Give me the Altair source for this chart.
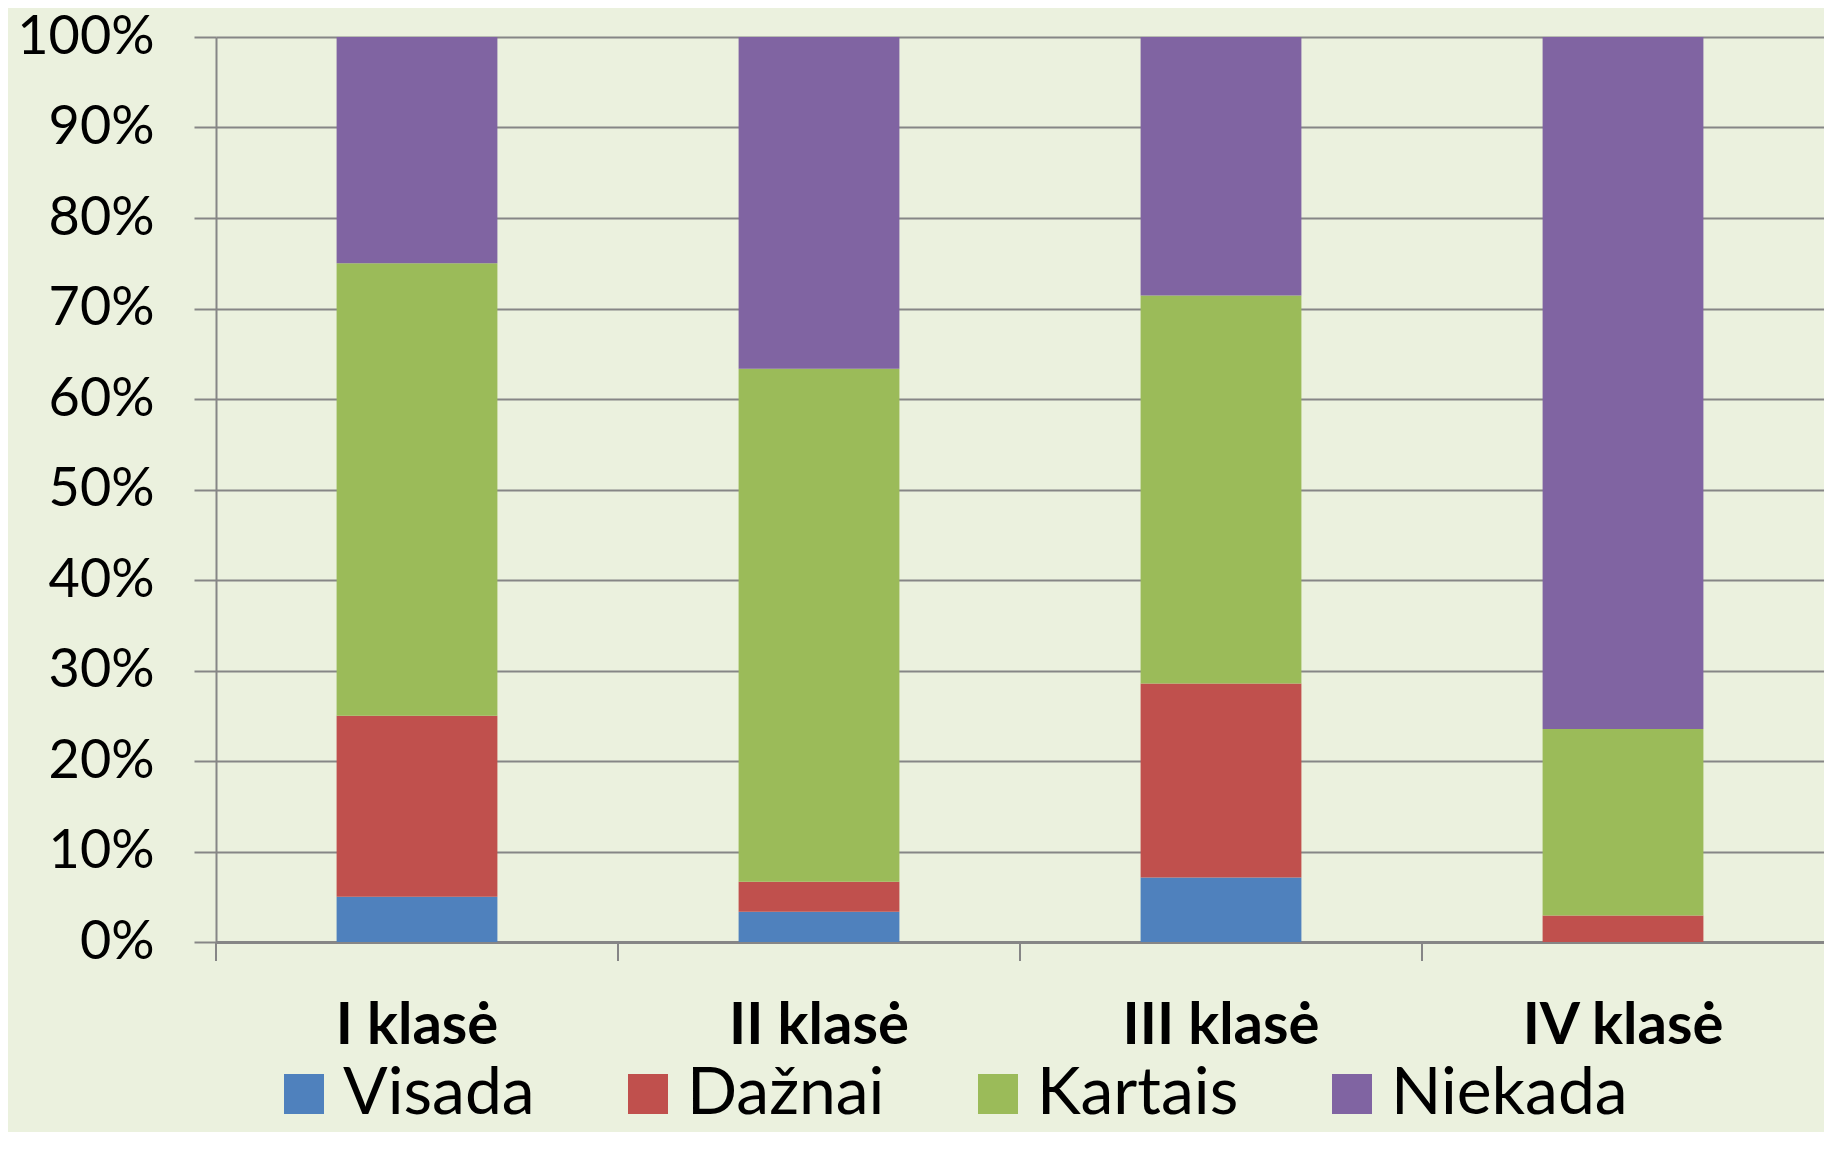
import altair as alt
import pandas as pd

classes = ["I klasė", "II klasė", "III klasė", "IV klasė"]
series = ["Visada", "Dažnai", "Kartais", "Niekada"]
colors = ["#4F81BD", "#C0504D", "#9BBB59", "#8064A2"]
visada = [5.0, 3.33, 7.14, 0.0]
daznai = [20.0, 3.33, 21.43, 2.94]
kartais = [50.0, 56.67, 42.86, 20.59]
niekada = [25.0, 36.67, 28.57, 76.47]
y_ticks = [0, 10, 20, 30, 40, 50, 60, 70, 80, 90, 100]

rows = []
for s_i, (name, vals) in enumerate(zip(series, [visada, daznai, kartais, niekada])):
    for c, v in zip(classes, vals):
        rows.append({"klase": c, "atsakymas": name, "reiksme": v, "eil": s_i})
df = pd.DataFrame(rows)

W, H = 1608, 905
BG = "#EBF1DE"
GRID = "#868686"
FONT = "Lato"

xscale = alt.Scale(domain=classes, paddingInner=0.6, paddingOuter=0.3)

bars = alt.Chart(df).mark_bar().encode(
    x=alt.X("klase:N", scale=xscale, sort=classes,
            axis=alt.Axis(title=None, labelAngle=0, ticks=False, tickSize=0,
                          domain=True, domainColor=GRID, domainWidth=3,
                          grid=False, labelFont=FONT, labelFontSize=58,
                          labelFontWeight="bold", labelColor="black",
                          labelBaseline="alphabetic", labelPadding=101,
                          labelLimit=600)),
    y=alt.Y("reiksme:Q", stack="zero", scale=alt.Scale(domain=[0, 100], nice=False),
            axis=alt.Axis(title=None, values=y_ticks, labelExpr="datum.value + '%'",
                          grid=True, gridColor=GRID, gridWidth=2,
                          domain=True, domainColor=GRID, domainWidth=2,
                          ticks=True, tickColor=GRID, tickWidth=2, tickSize=22,
                          labelFont=FONT, labelFontSize=54, labelColor="black",
                          labelPadding=40)),
    color=alt.Color("atsakymas:N", scale=alt.Scale(domain=series, range=colors),
                    legend=alt.Legend(title=None, orient="none", legendX=55, legendY=1024,
                                      direction="horizontal", columns=4,
                                      symbolType="square", symbolSize=1600,
                                      symbolStrokeWidth=0, symbolOpacity=1,
                                      labelFont=FONT, labelFontSize=66, labelColor="black",
                                      labelOffset=6, columnPadding=80, padding=0,
                                      labelLimit=600)),
    order=alt.Order("eil:Q", sort="ascending"),
)

ticks = alt.Chart(pd.DataFrame({"klase": classes})).mark_rule(color=GRID, strokeWidth=2).encode(
    x=alt.X("klase:N", scale=alt.Scale(domain=classes, paddingInner=0, paddingOuter=0),
            sort=classes, bandPosition=0, axis=None),
    y=alt.value(H),
    y2=alt.value(H + 19),
)

chart = alt.layer(bars, ticks).resolve_scale(x="independent").properties(
    width=W, height=H, background=BG,
    autosize=alt.AutoSizeParams(type="none"),
    padding={"left": 208, "top": 29, "right": 0, "bottom": 190},
).configure_view(stroke="transparent")

chart.save("out.html", embed_options={"renderer": "svg", "actions": False})
